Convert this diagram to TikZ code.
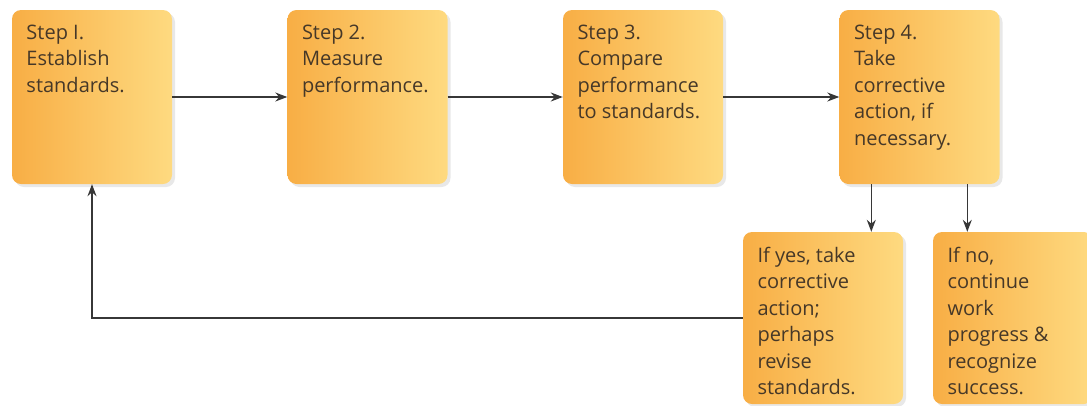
\documentclass[tikz,border=0pt]{standalone}
\usepackage{fontspec}
\setmainfont{Open Sans}
\usetikzlibrary{arrows.meta,shadows}
\definecolor{boxL}{RGB}{248,174,69}
\definecolor{boxR}{RGB}{254,218,128}
\definecolor{txt}{RGB}{70,56,40}
\definecolor{linec}{RGB}{55,55,55}
\newcommand{\boxtext}[2]{\parbox[c][#1][t]{131pt}{\raggedright\vspace*{3pt}#2}}
\tikzset{
  stepbox/.style={rounded corners=9pt, left color=boxL, right color=boxR, draw=none,
    drop shadow={opacity=0.18, shadow xshift=3pt, shadow yshift=-3pt},
    inner xsep=14.5pt, inner ysep=12pt, text=txt,
    font=\fontsize{20}{26.5}\selectfont},
  arr/.style={draw=linec, line width=1.3pt, -{Stealth[length=12pt,width=9pt]}}
}
\begin{document}
\begin{tikzpicture}[x=1pt,y=-1pt]
\useasboundingbox (0,0) rectangle (1087,405);
\node[stepbox] (s1) at (92,97) {\boxtext{150pt}{Step I.\\Establish\\standards.}};
\node[stepbox] (s2) at (367.5,97) {\boxtext{150pt}{Step 2.\\Measure\\performance.}};
\node[stepbox] (s3) at (643,97) {\boxtext{150pt}{Step 3.\\Compare\\performance\\to standards.}};
\node[stepbox] (s4) at (919.5,97) {\boxtext{150pt}{Step 4.\\Take\\corrective\\action, if\\necessary.}};
\node[stepbox, inner ysep=12pt] (yes) at (823,318) {\boxtext{148pt}{If yes, take\\corrective\\action;\\perhaps\\revise\\standards.}};
\node[stepbox, inner ysep=12pt] (no) at (1013,318) {\boxtext{148pt}{If no,\\continue\\work\\progress \&\\recognize\\success.}};
\draw[arr] (s1.east) -- (s2.west);
\draw[arr] (s2.east) -- (s3.west);
\draw[arr] (s3.east) -- (s4.west);
\coordinate (d1) at ([xshift=32pt]s4.south west);
\coordinate (d2) at ([xshift=128pt]s4.south west);
\draw[arr] (d1) -- (d1 |- yes.north);
\draw[arr] (d2) -- (d2 |- no.north);
\draw[arr] (yes.west) -| (s1.south);
\end{tikzpicture}
\end{document}
